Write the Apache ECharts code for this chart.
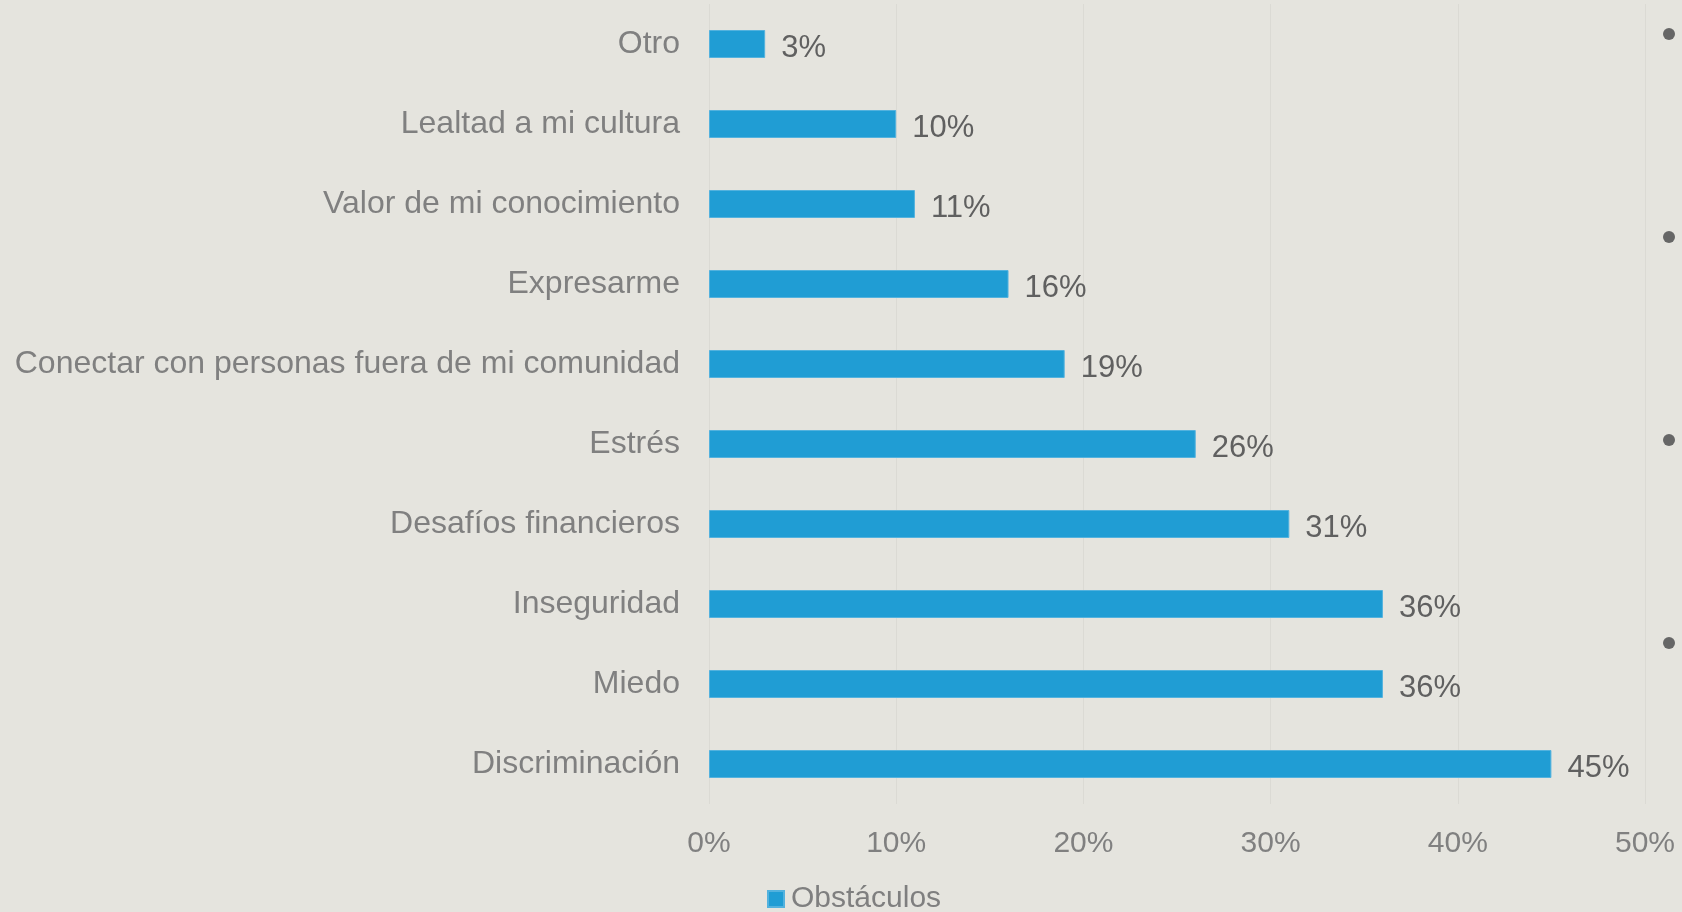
<!DOCTYPE html>
<html>
<head>
<meta charset="utf-8">
<script src="https://cdn.jsdelivr.net/npm/echarts@6/dist/echarts.min.js"></script>
<style>
html,body{margin:0;padding:0;background:#E5E4DE;}
#chart{width:1682px;height:912px;}
</style>
</head>
<body>
<div id="chart"></div>
<script>
const categories = ["Discriminación","Miedo","Inseguridad","Desafíos financieros","Estrés","Conectar con personas fuera de mi comunidad","Expresarme","Valor de mi conocimiento","Lealtad a mi cultura","Otro"];
const values = [45, 36, 36, 31, 26, 19, 16, 11, 10, 3];
const seriesName = "Obstáculos";
const xTicks = [0, 10, 20, 30, 40, 50];

const chart = echarts.init(document.getElementById('chart'), null, {renderer:'canvas'});
const font = 'Arial, "Liberation Sans", sans-serif';
chart.setOption({
  backgroundColor: '#E5E4DE',
  animation: false,
  grid: {left: 709, right: 37, top: 4, bottom: 108, containLabel: false},
  legend: {
    data: [seriesName],
    left: 767, top: 884, padding: 0,
    itemWidth: 16, itemHeight: 16, itemGap: 10,
    icon: 'rect',
    textStyle: {fontFamily: font, fontSize: 30, color: '#7F7F7F', padding: [0,0,0,2]}
  },
  xAxis: {
    type: 'value',
    min: xTicks[0], max: xTicks[xTicks.length-1], interval: 10,
    axisLine: {show: false},
    axisTick: {show: false},
    splitLine: {show: true, lineStyle: {color: '#DBDAD4', width: 1}},
    axisLabel: {formatter: '{value}%', fontFamily: font, fontSize: 30, color: '#808080', margin: 25}
  },
  yAxis: {
    type: 'category',
    data: categories,
    axisLine: {show: false},
    axisTick: {show: false},
    axisLabel: {fontFamily: font, fontSize: 32, color: '#808080', margin: 29, padding: [6,0,0,0]}
  },
  series: [{
    name: seriesName,
    type: 'bar',
    data: values,
    barWidth: 28,
    itemStyle: {color: '#209DD4', borderColor: '#53B2DE', borderWidth: 1},
    label: {
      show: true, position: 'right', distance: 16,
      formatter: '{c}%', fontFamily: font, fontSize: 31, color: '#606060',
      offset: [0, 4]
    }
  }],
  graphic: [0,1,2,3].map(i => ({
    type: 'circle',
    shape: {cx: 1669, cy: 34 + i * 203, r: 6},
    style: {fill: '#666666'},
    silent: true
  }))
});
</script>
</body>
</html>
